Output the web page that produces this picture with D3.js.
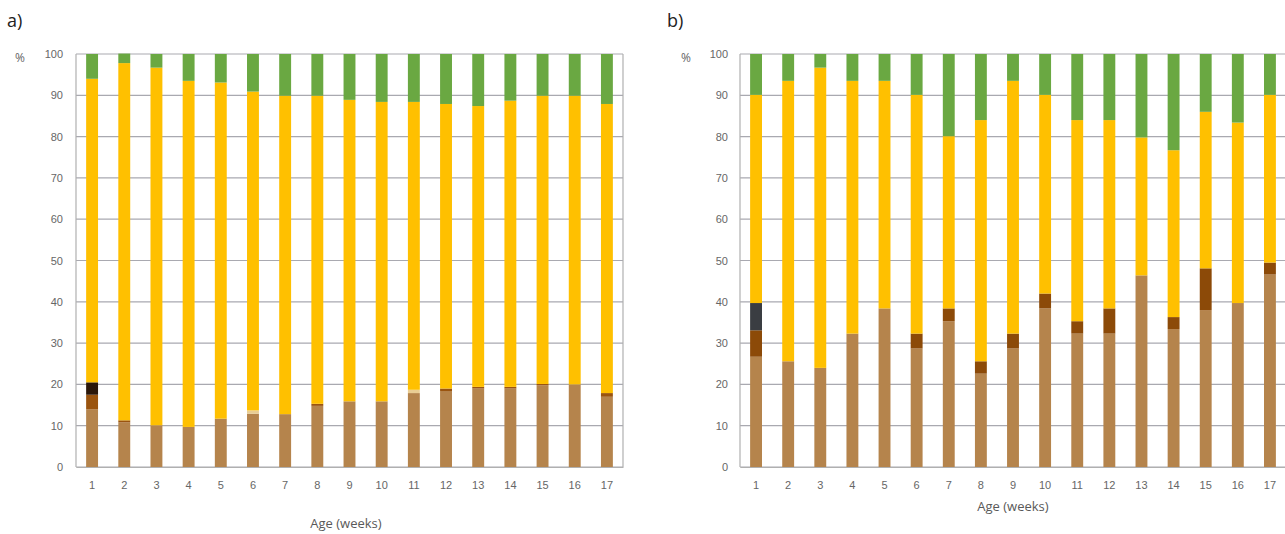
<!DOCTYPE html>
<html>
<head>
<meta charset="utf-8">
<script src="https://cdn.jsdelivr.net/npm/d3@7"></script>
<style>
  body { margin: 0; background: #fff; }
  svg { display: block; font-family: "Open Sans", "Liberation Sans", sans-serif; }
</style>
</head>
<body>
<svg id="chart" width="1285" height="534"></svg>
<script>
// weeks on the x axis
const weeks = d3.range(1, 18).map(String)
const yTicks = [0, 10, 20, 30, 40, 50, 60, 70, 80, 90, 100]

// stack order, bottom to top
const keys = ['brown', 'darkBrown', 'dark', 'pale', 'yellow', 'green']

// panel a) values in %
const aBrown = [14, 10.8, 10.1, 9.7, 11.7, 12.9, 12.8, 14.8, 15.9, 15.9, 17.9, 18.4, 19, 19, 19.8, 20, 17]
const aDarkBrown = [3.5, 0.5, 0, 0, 0, 0, 0, 0.5, 0, 0, 0, 0.6, 0.4, 0.4, 0.3, 0, 0.9]
const aDark = [3, 0, 0, 0, 0, 0, 0, 0, 0, 0, 0, 0, 0, 0, 0, 0, 0]
const aPale = [0, 0, 0, 0, 0, 0.8, 0, 0, 0, 0, 0.8, 0, 0, 0, 0, 0, 0]
const aYellow = [73.5, 86.5, 86.6, 83.8, 81.4, 77.2, 77.1, 74.6, 73, 72.5, 69.7, 68.9, 68, 69.3, 69.8, 69.9, 70]
const aGreen = [6, 2.3, 3.3, 6.5, 6.9, 9.1, 10.1, 10.1, 11.1, 11.6, 11.6, 12.1, 12.6, 11.3, 10.1, 10.1, 12.1]

// panel b) values in %
const bBrown = [26.7, 25.6, 24, 32.3, 38.4, 28.7, 35.3, 22.6, 28.7, 38.4, 32.3, 32.3, 46.4, 33.4, 38, 39.7, 46.6]
const bDarkBrown = [6.4, 0, 0, 0, 0, 3.6, 3.1, 3, 3.6, 3.6, 3, 6.1, 0, 2.9, 10.1, 0, 2.9]
const bDark = [6.6, 0, 0, 0, 0, 0, 0, 0, 0, 0, 0, 0, 0, 0, 0, 0, 0]
const bPale = [0, 0, 0, 0, 0, 0, 0, 0, 0, 0, 0, 0, 0, 0, 0, 0, 0]
const bYellow = [50.4, 67.9, 72.7, 61.2, 55.1, 57.8, 41.7, 58.4, 61.2, 48.1, 48.7, 45.6, 33.4, 40.4, 37.9, 43.7, 40.6]
const bGreen = [9.9, 6.5, 3.3, 6.5, 6.5, 9.9, 19.9, 16, 6.5, 9.9, 16, 16, 20.2, 23.3, 14, 16.6, 9.9]

const svg = d3.select('#chart')

function rows(cols) {
  return weeks.map((w, i) => {
    const r = { week: w }
    keys.forEach((k, j) => { r[k] = cols[j][i] })
    return r
  })
}

function drawPanel(cfg) {
  const g = svg.append('g').attr('transform', `translate(${cfg.left}, ${cfg.top})`)
  const w = cfg.width
  const h = cfg.height

  const x = d3.scaleBand()
    .domain(weeks)
    .range([0, w])
    .paddingInner(0.63)
    .paddingOuter(0.315)

  const y = d3.scaleLinear()
    .domain([0, 100])
    .range([h, 0])

  // grid
  g.append('g')
    .selectAll('line')
    .data(yTicks)
    .enter()
    .append('line')
    .attr('x1', 0)
    .attr('x2', w)
    .attr('y1', d => y(d))
    .attr('y2', d => y(d))
    .style('stroke', '#a9a9b0')
    .style('stroke-width', 1.2)

  // plot border (left / right)
  g.append('line').attr('x1', 0).attr('x2', 0).attr('y1', 0).attr('y2', h)
    .style('stroke', '#b0b0b0').style('stroke-width', 1.2)
  g.append('line').attr('x1', w).attr('x2', w).attr('y1', 0).attr('y2', h)
    .style('stroke', '#b0b0b0').style('stroke-width', 1.2)

  const stack = d3.stack().keys(keys)
  const series = stack(cfg.data)

  g.append('g')
    .selectAll('g')
    .data(series)
    .enter()
    .append('g')
    .style('fill', d => cfg.colors[d.key])
    .selectAll('rect')
    .data(d => d)
    .enter()
    .append('rect')
    .attr('x', d => x(d.data.week))
    .attr('width', x.bandwidth())
    .attr('y', d => y(d[1]))
    .attr('height', d => y(d[0]) - y(d[1]))

  // y axis labels
  const yaxis = d3.axisLeft(y).tickValues(yTicks).tickSize(0).tickPadding(cfg.yPad)
  const yaxisg = g.append('g').call(yaxis)
  yaxisg.select('.domain').remove()
  yaxisg.selectAll('text').style('font-size', '11px').style('fill', '#666')

  // x axis labels
  const xaxis = d3.axisBottom(x).tickSize(0).tickPadding(14)
  const xaxisg = g.append('g').attr('transform', `translate(0, ${h})`).call(xaxis)
  xaxisg.select('.domain').style('stroke', '#b0b0b0').style('stroke-width', 1.2)
  xaxisg.selectAll('text').style('font-size', '11px').style('fill', '#666')

  g.append('text')
    .attr('x', cfg.pctX)
    .attr('y', 8)
    .style('font-size', '12px')
    .style('fill', '#666')
    .attr('text-anchor', 'middle')
    .text('%')

  g.append('text')
    .attr('x', cfg.titleX)
    .attr('y', cfg.titleY)
    .attr('text-anchor', 'middle')
    .style('font-size', '13px')
    .style('fill', '#595959')
    .text('Age (weeks)')

  svg.append('text')
    .attr('x', cfg.labelX)
    .attr('y', 27)
    .style('font-size', '18px')
    .style('fill', '#222')
    .text(cfg.label)
}

drawPanel({
  label: 'a)',
  labelX: 7,
  left: 76,
  top: 54,
  width: 547,
  height: 413,
  yPad: 13,
  pctX: -56,
  titleX: 270,
  titleY: 474,
  data: rows([aBrown, aDarkBrown, aDark, aPale, aYellow, aGreen]),
  colors: { brown: '#b5844c', darkBrown: '#9a540f', dark: '#2a170a', pale: '#e9cd93', yellow: '#ffc000', green: '#6aa842' }
})

drawPanel({
  label: 'b)',
  labelX: 667,
  left: 740,
  top: 54,
  width: 546,
  height: 413,
  yPad: 12,
  pctX: -54,
  titleX: 273,
  titleY: 457,
  data: rows([bBrown, bDarkBrown, bDark, bPale, bYellow, bGreen]),
  colors: { brown: '#b5844c', darkBrown: '#8c4a08', dark: '#3a3d42', pale: '#e9cd93', yellow: '#ffc000', green: '#6aa842' }
})
</script>
</body>
</html>
